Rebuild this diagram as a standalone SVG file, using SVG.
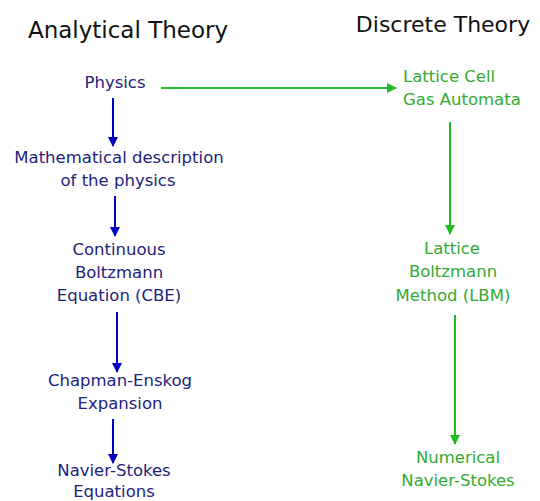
<svg xmlns="http://www.w3.org/2000/svg" width="540" height="501" viewBox="0 0 540 501">
<style>
text{font-family:"DejaVu Sans","Liberation Sans",sans-serif;text-anchor:middle}
.title{font-size:22px;fill:#111}
.a{font-size:16.5px;fill:#22227a}
.d{font-size:16.5px;fill:#33aa33}
.ba{stroke:#0000c0;stroke-width:2;fill:none;marker-end:url(#mb)}
.ga{stroke:#22bb22;stroke-width:2;fill:none;marker-end:url(#mg)}
</style>
<defs>
<marker id="mb" viewBox="0 0 10 10" refX="9" refY="5" markerWidth="5" markerHeight="5" orient="auto" markerUnits="strokeWidth"><path d="M0,0 L10,5 L0,10 z" fill="#0000c0"/></marker>
<marker id="mg" viewBox="0 0 10 10" refX="9" refY="5" markerWidth="5" markerHeight="5" orient="auto" markerUnits="strokeWidth"><path d="M0,0 L10,5 L0,10 z" fill="#22bb22"/></marker>
</defs>
<rect width="540" height="501" fill="#fff"/>
<text class="title" x="128" y="37.5" style="font-size:23px">Analytical Theory</text>
<text class="title" x="443" y="32">Discrete Theory</text>
<g id="physics"><text class="a" x="115" y="88">Physics</text></g>
<g id="math"><text class="a" x="119" y="163">Mathematical description</text><text class="a" x="118" y="186">of the physics</text></g>
<g id="cbe"><text class="a" x="119" y="255">Continuous</text><text class="a" x="119" y="278">Boltzmann</text><text class="a" x="119" y="301">Equation (CBE)</text></g>
<g id="ce"><text class="a" x="120" y="386">Chapman-Enskog</text><text class="a" x="120" y="409">Expansion</text></g>
<g id="ns"><text class="a" x="114" y="476">Navier-Stokes</text><text class="a" x="114" y="497">Equations</text></g>
<g id="lgca"><text class="d" x="403" y="82" style="text-anchor:start">Lattice Cell</text><text class="d" x="403" y="105" style="text-anchor:start">Gas Automata</text></g>
<g id="lbm"><text class="d" x="452" y="254">Lattice</text><text class="d" x="453" y="277">Boltzmann</text><text class="d" x="453" y="301">Method (LBM)</text></g>
<g id="nns"><text class="d" x="458" y="463">Numerical</text><text class="d" x="458" y="486">Navier-Stokes</text></g>
<g id="connectors">
<line class="ba" x1="113" y1="98" x2="113" y2="146"/>
<line class="ba" x1="115" y1="196" x2="115" y2="236"/>
<line class="ba" x1="117" y1="312" x2="117" y2="372"/>
<line class="ba" x1="113" y1="419" x2="113" y2="463"/>
<line class="ga" x1="161" y1="88" x2="396" y2="88"/>
<line class="ga" x1="450" y1="122" x2="450" y2="234"/>
<line class="ga" x1="455" y1="315" x2="455" y2="444"/>
</g>
</svg>
